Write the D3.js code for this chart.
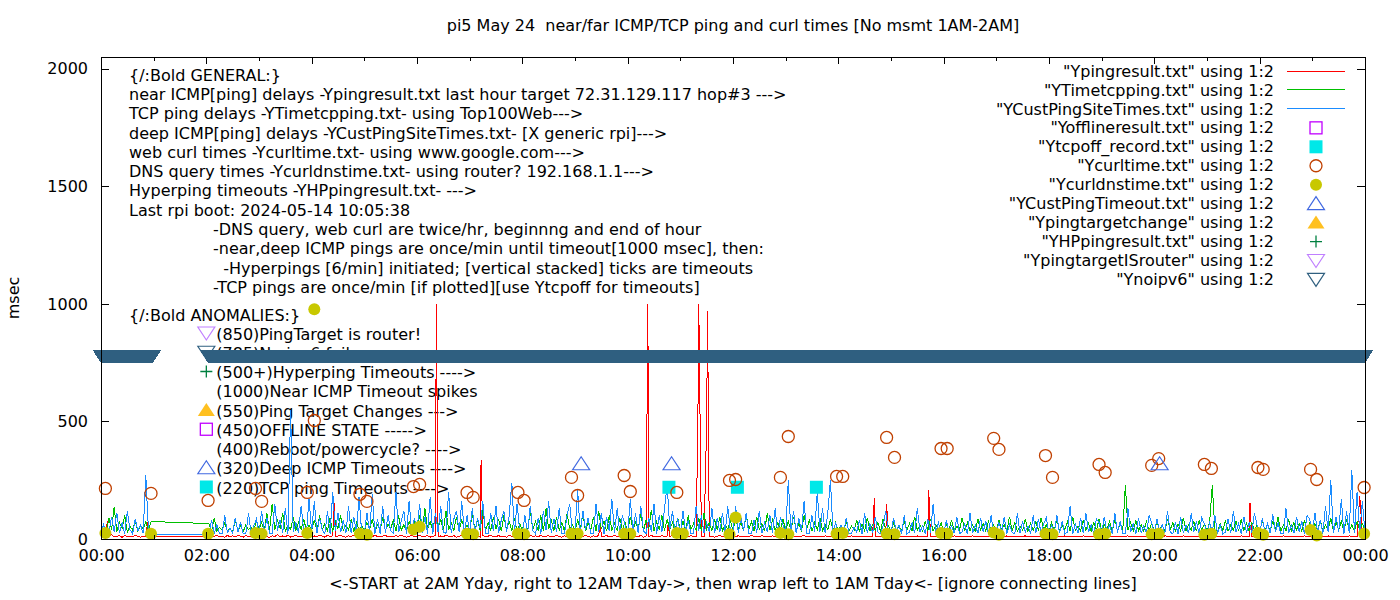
<!DOCTYPE html>
<html><head><meta charset="utf-8">
<script src="https://cdnjs.cloudflare.com/ajax/libs/d3/7.8.5/d3.min.js"></script>
<style>
body{margin:0;background:#fff}
svg{display:block}
text{font-family:"DejaVu Sans",sans-serif;font-size:16px;fill:#000;white-space:pre}
</style>
</head><body>
<svg id="chart" width="1400" height="600"></svg>
<script>
// ---------------- DATA ----------------
const STEP = 3; // minutes between samples of the line series (index * STEP = minute of day)
const yTicks = [0, 500, 1000, 1500, 2000];
const xTickMinutes = [0,120,240,360,480,600,720,840,960,1080,1200,1320,1440];
const xTickLabels = ["00:00","02:00","04:00","06:00","08:00","10:00","12:00","14:00","16:00","18:00","20:00","22:00","00:00"];

// deep ICMP (YCustPingSiteTimes) msec, one row per hour
const blueMs = [
24,62,22,28,95,30,112,25,70,22,120,40,22,85,35,60,24,270,45,22,
20,null,null,null,null,null,null,null,null,null,null,null,null,null,null,null,null,null,null,null,
20,24,80,25,60,22,22,100,28,45,24,90,30,70,22,22,110,26,55,85,
25,120,30,90,24,24,150,35,80,28,130,22,550,30,70,25,140,35,22,170,
30,160,25,90,40,22,120,22,200,35,110,28,80,24,140,24,95,30,180,26,
24,110,30,190,22,85,22,140,25,100,35,24,200,28,75,120,22,160,30,90,
35,150,25,95,22,180,22,110,30,140,28,24,200,24,85,120,30,160,25,100,
30,130,22,90,45,160,25,24,110,35,140,24,80,120,28,100,240,26,150,35,
28,100,24,140,35,22,90,22,120,40,160,25,85,30,130,24,24,100,150,28,
30,210,25,120,40,90,24,24,150,30,110,22,95,35,170,25,130,28,100,60,
25,170,30,110,24,140,35,22,90,28,150,22,100,30,130,230,40,120,28,90,
24,120,30,80,22,22,140,35,100,25,70,30,130,24,90,28,110,22,140,35,
30,140,25,90,35,110,22,22,80,28,120,24,70,30,100,25,130,22,90,60,
25,250,30,120,24,90,35,160,22,22,100,28,200,30,130,24,110,250,28,70,
22,60,28,90,24,24,50,30,80,22,110,26,65,24,95,30,22,55,120,28,
24,90,30,60,22,100,22,28,70,24,130,30,55,22,85,26,150,24,70,30,
22,80,28,55,24,95,22,30,65,22,110,26,60,24,90,30,75,22,100,28,
24,70,30,95,22,60,28,22,110,24,75,30,55,22,100,26,85,24,65,90,
22,60,28,100,24,75,22,30,140,22,65,26,90,24,110,30,60,22,85,70,
24,95,30,60,22,110,28,75,24,24,130,30,65,22,90,26,55,24,100,70,
22,85,28,60,24,120,30,22,70,22,95,26,60,24,110,30,75,22,90,65,
24,70,30,100,22,60,22,28,85,24,120,30,65,22,95,26,70,24,110,60,
22,90,28,65,24,105,30,70,22,22,130,26,60,24,95,30,75,22,100,85,
24,110,30,80,22,140,28,250,24,95,30,170,22,120,26,292,24,200,30,160,
28];

// TCP ping (YTimetcpping) msec
const greenMs = [
35,60,30,90,40,135,32,70,45,100,30,55,38,80,32,60,40,75,35,74,
74,null,null,null,null,null,null,null,null,null,null,null,null,null,null,null,null,null,null,null,
66,64,35,90,32,50,38,70,33,45,30,80,36,55,32,60,40,48,33,75,
40,70,35,110,32,150,38,80,45,110,33,60,40,95,35,70,42,85,36,60,
38,80,33,100,40,65,35,90,32,75,45,100,36,60,40,85,33,70,38,55,
36,70,40,85,33,60,38,95,35,65,42,80,34,100,38,60,35,75,40,70,
38,100,34,130,40,75,35,110,45,85,33,120,40,70,36,95,34,80,42,60,
36,110,40,80,34,125,38,70,35,95,42,85,33,100,40,75,36,90,34,65,
38,90,34,120,40,75,36,100,33,130,42,80,35,95,38,70,34,110,40,60,
36,80,40,110,34,70,38,95,35,120,42,75,33,100,38,65,36,90,40,70,
34,95,38,70,40,110,35,80,42,125,33,75,38,100,36,85,40,70,34,90,
38,75,34,100,40,65,36,90,33,110,42,70,35,85,38,95,34,60,40,80,
36,90,40,70,34,105,38,75,35,95,42,65,33,110,38,80,36,70,40,85,
34,75,38,95,40,65,35,100,42,80,33,70,38,90,36,60,40,85,34,70,
33,60,36,75,34,55,38,80,33,65,36,90,34,60,38,70,33,85,36,55,
34,70,38,55,33,80,36,65,34,95,38,60,33,75,36,85,34,60,38,70,
33,65,36,80,34,55,38,90,33,70,36,60,34,85,38,65,33,75,36,60,
34,80,38,60,33,95,36,70,34,55,38,85,33,65,36,75,34,90,38,60,
33,70,36,85,34,60,38,75,33,95,36,55,34,80,38,65,33,70,36,85,
34,60,38,75,33,85,36,65,34,228,38,70,33,80,36,60,34,75,38,65,
33,75,36,60,34,85,38,70,33,65,36,90,34,60,38,75,33,80,36,65,
34,70,228,38,33,65,36,80,34,60,38,75,33,85,36,65,34,70,38,60,
33,80,36,65,34,75,38,95,33,60,36,85,34,70,38,65,33,80,36,70,
34,65,38,80,33,60,36,90,34,70,38,75,33,85,36,60,34,75,38,65,
36];

// near ICMP (Ypingresult) msec, regular samples
const redMs = [
10,15,8,12,18,9,11,14,7,16,10,12,9,15,11,8,13,10,16,9,
10,null,null,null,null,null,null,null,null,null,null,null,null,null,null,null,null,null,null,null,
11,8,14,10,17,9,12,7,15,10,13,9,16,11,8,14,10,12,18,9,
12,9,15,10,7,14,11,18,9,13,10,16,8,12,15,9,11,14,10,17,
9,13,10,16,12,8,15,11,14,9,12,17,10,8,13,11,16,9,12,10,
14,10,12,9,16,11,8,13,15,10,12,9,14,11,17,10,8,12,15,11,
10,16,9,12,14,8,11,15,10,13,9,17,12,10,14,8,11,16,10,12,
13,9,15,11,8,14,10,12,16,9,11,14,10,13,8,15,11,9,12,14,
10,12,8,15,11,13,9,16,10,12,14,9,11,15,10,8,13,11,16,10,
12,9,14,10,16,11,8,13,10,15,9,12,14,10,11,16,9,13,10,12,
11,14,9,12,10,16,8,13,11,15,10,12,9,14,11,13,10,16,9,12,
10,13,11,9,15,10,12,14,9,11,16,10,13,8,12,15,10,11,14,9,
12,10,14,9,11,13,10,15,12,9,11,14,10,12,9,13,11,10,14,12,
11,12,10,13,11,9,12,14,10,11,13,10,12,11,9,13,12,10,11,12,
11,12,10,12,11,13,10,12,11,10,12,11,13,10,11,12,10,12,11,10,
12,10,11,13,10,12,11,10,12,11,13,10,11,12,10,11,13,10,12,11,
10,12,11,10,13,11,12,10,11,12,10,13,11,10,12,11,10,12,13,11,
11,10,12,11,13,10,11,12,10,11,12,13,10,11,12,10,11,13,12,10,
12,11,10,12,11,10,13,11,12,10,11,12,10,13,11,12,10,11,12,11,
10,12,11,13,10,11,12,10,11,12,13,11,10,12,11,10,12,11,13,10,
11,12,10,11,13,12,10,11,12,10,11,13,12,10,11,12,11,10,12,11,
12,10,11,12,11,13,10,12,11,10,12,11,10,13,12,11,10,12,11,10,
10,11,13,12,10,11,12,10,11,13,12,10,11,12,10,11,12,13,10,11,
11,12,10,11,12,10,13,11,12,10,11,12,10,11,13,12,10,11,12,11,
11];
// near ICMP extra single-minute readings (spikes / timeouts): [minute of day, msec]
const redSpikeMin = [7, 53, 266, 382, 383, 433, 434, 569, 623, 646, 680, 681, 690, 691, 881, 895, 943, 1309, 1434, 1436];
const redSpikeMs  = [75, 70, 155, 1000, 505, 338, 172, 70, 1000, 60, 500, 1000, 490, 970, 175, 150, 210, 151, 181, 80];

// web curl times (Ycurltime)
const curlTimes = ["00:05","00:57","02:02","02:56","03:03","03:55","04:03","04:55","05:03","05:56","06:03","06:57","07:04","07:55","08:02","08:56","09:03","09:56","10:03","10:56","11:56","12:03","12:54","13:03","13:58","14:05","14:55","15:04","15:57","16:04","16:57","17:03","17:56","18:04","18:57","19:04","19:57","20:05","20:57","21:05","21:58","22:04","22:58","23:05","23:59"];
const curlMs = [215,194,164,215,160,198,504,190,160,223,232,198,177,198,164,262,185,270,202,198,249,253,262,436,266,266,432,347,385,385,428,381,355,262,317,283,313,342,317,300,304,296,296,253,219];

// DNS query times (Ycurldnstime)
const dnsTimes = ["00:05","00:57","02:02","02:56","03:03","03:55","04:03","04:55","05:03","05:56","06:03","06:57","07:04","07:55","08:02","08:56","09:03","09:56","10:03","10:56","11:03","11:56","12:03","12:54","13:03","13:58","14:05","14:55","15:04","15:57","16:04","16:57","17:03","17:56","18:04","18:57","19:04","19:57","20:05","20:57","21:05","21:58","22:04","22:58","23:05","23:59"];
const dnsMs = [25,22,22,25,22,25,977,22,18,40,52,22,20,22,20,22,22,22,22,25,22,20,91,25,20,22,25,22,20,25,22,28,18,22,20,20,22,20,22,18,22,25,18,38,15,22];

// deep ICMP timeouts (YCustPingTimeout)
const custTimeoutTimes = ["09:07","10:50","20:06"];
const custTimeoutMs = [320,320,320];

// TCP ping timeouts (Ytcpoff_record)
const tcpoffTimes = ["10:47","12:05","13:35"];
const tcpoffMs = [220,220,220];

// no-ipv6 state (Ynoipv6): measured every minute inside these intervals at 785
const noipv6Start = ["00:00","02:02"];
const noipv6End = ["00:59","24:00"];
const noipv6Ms = 785;

const titleText = "pi5 May 24  near/far ICMP/TCP ping and curl times [No msmt 1AM-2AM]";
const xLabelText = "<-START at 2AM Yday, right to 12AM Tday->, then wrap left to 1AM Tday<- [ignore connecting lines]";
const yLabelText = "msec";

const generalLines = [
 "{/:Bold GENERAL:}",
 "near ICMP[ping] delays -Ypingresult.txt last hour target 72.31.129.117 hop#3 --->",
 "TCP ping delays -YTimetcpping.txt- using Top100Web--->",
 "deep ICMP[ping] delays -YCustPingSiteTimes.txt- [X generic rpi]--->",
 "web curl times -Ycurltime.txt- using www.google.com--->",
 "DNS query times -Ycurldnstime.txt- using router? 192.168.1.1--->",
 "Hyperping timeouts -YHPpingresult.txt- --->",
 "Last rpi boot: 2024-05-14 10:05:38"
];
const noteLines = [
 "-DNS query, web curl are twice/hr, beginnng and end of hour",
 "-near,deep ICMP pings are once/min until timeout[1000 msec], then:",
 "  -Hyperpings [6/min] initiated; [vertical stacked] ticks are timeouts",
 "-TCP pings are once/min [if plotted][use Ytcpoff for timeouts]"
];
const anomalyHeader = "{/:Bold ANOMALIES:}";
const anomalyLines = [
 "(850)PingTarget is router!",
 "(785)No ipv6 failures",
 "(500+)Hyperping Timeouts ---->",
 "(1000)Near ICMP Timeout spikes",
 "(550)Ping Target Changes --->",
 "(450)OFFLINE STATE ----->",
 "(400)Reboot/powercycle? ---->",
 "(320)Deep ICMP Timeouts ---->",
 "(220)TCP ping Timeouts ---->"
];
const anomalySymbols = ["triDownLav","triDownDark","plus",null,"triUpFill","squareOpen",null,"triUpOpen","squareFill"];

const legendNames = ['"Ypingresult.txt" using 1:2','"YTimetcpping.txt" using 1:2','"YCustPingSiteTimes.txt" using 1:2','"Yofflineresult.txt" using 1:2','"Ytcpoff_record.txt" using 1:2','"Ycurltime.txt" using 1:2','"Ycurldnstime.txt" using 1:2','"YCustPingTimeout.txt" using 1:2','"Ypingtargetchange" using 1:2','"YHPpingresult.txt" using 1:2','"YpingtargetISrouter" using 1:2','"Ynoipv6" using 1:2'];
const legendKinds = ["line:red","line:green","line:blue","squareOpen","squareFill","circleOpen","circleFill","triUpOpen","triUpFill","plus","triDownLav","triDownDark"];

// ---------------- STYLE ----------------
const COL = {red:"#ff0000", green:"#00c000", blue:"#1a8cff"};
const FONT = '"DejaVu Sans",sans-serif';

// ---------------- DRAW ----------------
const svg = d3.select("#chart");
const P = {l:101, r:1365, t:57, b:539};
const x = d3.scaleLinear().domain([0,1440]).range([P.l,P.r]);
const y = d3.scaleLinear().domain([0,2050]).range([P.b,P.t]);
const hm = s => { const [h,m] = s.split(":").map(Number); return h*60+m; };

function symbol(g, kind, cx, cy){
  switch(kind){
    case "squareOpen": g.append("rect").attr("x",cx-6).attr("y",cy-6).attr("width",12).attr("height",12).attr("fill","none").attr("stroke","#c000ff").attr("stroke-width",1.3); break;
    case "squareFill": g.append("rect").attr("x",cx-6.5).attr("y",cy-6.5).attr("width",13).attr("height",13).attr("fill","#00e8e8"); break;
    case "circleOpen": g.append("circle").attr("cx",cx).attr("cy",cy).attr("r",6).attr("fill","none").attr("stroke","#c04000").attr("stroke-width",1.3); break;
    case "circleFill": g.append("circle").attr("cx",cx).attr("cy",cy).attr("r",6).attr("fill","#c8c800"); break;
    case "triUpOpen": g.append("path").attr("d",`M${cx},${cy-7}L${cx+8.5},${cy+6}L${cx-8.5},${cy+6}Z`).attr("fill","none").attr("stroke","#4169e1").attr("stroke-width",1.2); break;
    case "triUpFill": g.append("path").attr("d",`M${cx},${cy-7}L${cx+8.5},${cy+6}L${cx-8.5},${cy+6}Z`).attr("fill","#ffc020"); break;
    case "plus": g.append("path").attr("d",`M${cx-6},${cy}H${cx+6}M${cx},${cy-6}V${cy+6}`).attr("stroke","#008040").attr("stroke-width",1.3); break;
    case "triDownLav": g.append("path").attr("d",`M${cx-8.5},${cy-6}L${cx+8.5},${cy-6}L${cx},${cy+7}Z`).attr("fill","none").attr("stroke","#c080ff").attr("stroke-width",1.2); break;
    case "triDownDark": g.append("path").attr("d",`M${cx-8.5},${cy-6}L${cx+8.5},${cy-6}L${cx},${cy+7}Z`).attr("fill","none").attr("stroke","#306080").attr("stroke-width",1.2); break;
  }
}

// title & axis labels
svg.append("text").attr("x",(P.l+P.r)/2).attr("y",25).attr("dy","0.35em").attr("text-anchor","middle").text(titleText);
svg.append("text").attr("x",(P.l+P.r)/2).attr("y",583).attr("dy","0.35em").attr("text-anchor","middle").text(xLabelText);
svg.append("text").attr("transform",`translate(13,${(P.t+P.b)/2}) rotate(-90)`).attr("dy","0.35em").attr("text-anchor","middle").text(yLabelText);

// annotation labels (behind data)
const ann = svg.append("g");
generalLines.forEach((s,i)=> ann.append("text").attr("x",P.l+28).attr("y",P.t+18+i*19.3).attr("dy","0.35em").text(s));
noteLines.forEach((s,i)=> ann.append("text").attr("x",P.l+112).attr("y",P.t+18+(8+i)*19.3).attr("dy","0.35em").text(s));
ann.append("text").attr("x",P.l+28).attr("y",P.t+258).attr("dy","0.35em").text(anomalyHeader);
anomalyLines.forEach((s,i)=>{
  const cy = P.t+277+i*19.25;
  ann.append("text").attr("x",x(hm("02:00"))+10).attr("y",cy).attr("dy","0.35em").text(s);
  if(anomalySymbols[i]) symbol(ann, anomalySymbols[i], x(hm("02:00")), cy-1);
});

// line series
const toTable = vals => vals.map((v,i)=>({t:i*STEP, v})).filter(d=>d.v!==null);
const redTable = toTable(redMs).filter(d=>!redSpikeMin.includes(d.t))
  .concat(redSpikeMin.map((t,i)=>({t, v:redSpikeMs[i]}))).sort((a,b)=>a.t-b.t);
const line = d3.line().x(d=>x(d.t)).y(d=>y(d.v));
const lines = svg.append("g");
[[redTable,COL.red],[toTable(greenMs),COL.green],[toTable(blueMs),COL.blue]].forEach(([tab,c])=>{
  lines.append("path").attr("d",line(tab)).attr("fill","none").attr("stroke",c).attr("stroke-width",1).attr("shape-rendering","crispEdges");
});

// point series
const pts = svg.append("g");
tcpoffTimes.forEach((t,i)=>symbol(pts,"squareFill",x(hm(t)),y(tcpoffMs[i])));
curlTimes.forEach((t,i)=>symbol(pts,"circleOpen",x(hm(t)),y(curlMs[i])));
dnsTimes.forEach((t,i)=>symbol(pts,"circleFill",x(hm(t)),y(dnsMs[i])));
custTimeoutTimes.forEach((t,i)=>symbol(pts,"triUpOpen",x(hm(t)),y(custTimeoutMs[i])));

// no-ipv6 band (continuous run of down-triangles)
noipv6Start.forEach((s,i)=>{
  const x0=x(hm(s)), x1=x(hm(noipv6End[i])), cy=y(noipv6Ms);
  pts.append("path").attr("d",`M${x0-8.5},${cy-4.5}H${x1+8.5}L${x1},${cy+8.5}H${x0}Z`).attr("fill","#2f5f80").attr("shape-rendering","crispEdges");
});

// axes (inward ticks, mirrored)
const ax = svg.append("g");
const fmtX = m => xTickLabels[xTickMinutes.indexOf(m)];
const minorX = d3.range(60,1440,120);
ax.append("g").attr("transform",`translate(0,${P.b})`).call(d3.axisBottom(x).tickValues(xTickMinutes).tickFormat(fmtX).tickSize(-7).tickPadding(11));
ax.append("g").attr("transform",`translate(0,${P.t})`).call(d3.axisTop(x).tickValues(xTickMinutes).tickFormat("").tickSize(-7));
ax.append("g").attr("transform",`translate(0,${P.b})`).call(d3.axisBottom(x).tickValues(minorX).tickFormat("").tickSize(-4));
ax.append("g").attr("transform",`translate(0,${P.t})`).call(d3.axisTop(x).tickValues(minorX).tickFormat("").tickSize(-4));
ax.append("g").attr("transform",`translate(${P.l},0)`).call(d3.axisLeft(y).tickValues(yTicks).tickFormat(d3.format("d")).tickSize(-8).tickPadding(13));
ax.append("g").attr("transform",`translate(${P.r},0)`).call(d3.axisRight(y).tickValues(yTicks).tickFormat("").tickSize(-8));
ax.selectAll(".domain").remove();
ax.selectAll("g").attr("font-family",FONT).attr("font-size",16);
ax.selectAll("text").style("font-family",FONT).style("font-size","16px").attr("fill","#000");
ax.selectAll("line").attr("stroke","#000").attr("shape-rendering","crispEdges");
svg.append("rect").attr("x",P.l).attr("y",P.t).attr("width",P.r-P.l).attr("height",P.b-P.t).attr("fill","none").attr("stroke","#000").attr("shape-rendering","crispEdges");

// legend
const leg = svg.append("g");
legendNames.forEach((n,i)=>{
  const cy = 71 + i*18.95;
  leg.append("text").attr("x",1274).attr("y",cy).attr("dy","0.35em").attr("text-anchor","end").text(n);
  const k = legendKinds[i];
  if(k.startsWith("line:")) leg.append("line").attr("x1",1287).attr("x2",1345).attr("y1",cy).attr("y2",cy).attr("stroke",COL[k.slice(5)]).attr("shape-rendering","crispEdges");
  else symbol(leg,k,1316,cy);
});
</script>
</body></html>
